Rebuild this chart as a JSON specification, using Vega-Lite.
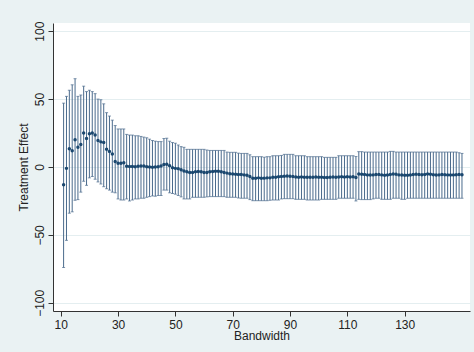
{
  "$schema": "https://vega.github.io/schema/vega-lite/v6.json",
  "width": 417,
  "height": 288,
  "autosize": {"type": "none"},
  "padding": {"left": 53, "top": 23, "right": 4, "bottom": 41},
  "background": "#eaf2f3",
  "config": {
    "view": {"fill": "white", "stroke": null},
    "font": "Liberation Sans",
    "axis": {
      "domainColor": "#333333",
      "domainWidth": 1,
      "tickColor": "#333333",
      "tickSize": 5,
      "labelColor": "#222222",
      "titleColor": "#222222",
      "labelFontSize": 12,
      "titleFontSize": 12,
      "titleFontWeight": "normal",
      "labelFont": "Liberation Sans",
      "titleFont": "Liberation Sans"
    }
  },
  "data": {
    "values": [
      {"bw": 11, "est": -13, "lo": -74, "hi": 47},
      {"bw": 12, "est": -1, "lo": -54, "hi": 52},
      {"bw": 13, "est": 13.5, "lo": -34, "hi": 56.5},
      {"bw": 14, "est": 12, "lo": -33, "hi": 60.5},
      {"bw": 15, "est": 20, "lo": -24.5, "hi": 65},
      {"bw": 16, "est": 14.5, "lo": -24, "hi": 52},
      {"bw": 17, "est": 16.5, "lo": -18.5, "hi": 53},
      {"bw": 18, "est": 25, "lo": -10.5, "hi": 59.5},
      {"bw": 19, "est": 21, "lo": -13.5, "hi": 55.5},
      {"bw": 20, "est": 24.5, "lo": -8, "hi": 56.5},
      {"bw": 21, "est": 25, "lo": -7, "hi": 55.5},
      {"bw": 22, "est": 23.5, "lo": -9, "hi": 54},
      {"bw": 23, "est": 19.5, "lo": -11, "hi": 50},
      {"bw": 24, "est": 18.5, "lo": -12.5, "hi": 49.5},
      {"bw": 25, "est": 18, "lo": -14.5, "hi": 46.5},
      {"bw": 26, "est": 13, "lo": -16, "hi": 40},
      {"bw": 27, "est": 11.5, "lo": -17, "hi": 37.5},
      {"bw": 28, "est": 9.5, "lo": -18.5, "hi": 34.5},
      {"bw": 29, "est": 4, "lo": -19, "hi": 30.5},
      {"bw": 30, "est": 2.7, "lo": -23.5, "hi": 28},
      {"bw": 31, "est": 2.7, "lo": -24.3, "hi": 28},
      {"bw": 32, "est": 3.2, "lo": -24.3, "hi": 28},
      {"bw": 33, "est": 0.5, "lo": -23.5, "hi": 24},
      {"bw": 34, "est": 0.3, "lo": -25, "hi": 23.5},
      {"bw": 35, "est": 0.3, "lo": -24.3, "hi": 23.5},
      {"bw": 36, "est": 0.2, "lo": -23.5, "hi": 23},
      {"bw": 37, "est": 0.5, "lo": -23.5, "hi": 23},
      {"bw": 38, "est": 0.8, "lo": -23, "hi": 22.5},
      {"bw": 39, "est": 0.7, "lo": -23, "hi": 22},
      {"bw": 40, "est": 0.2, "lo": -22.3, "hi": 21.5},
      {"bw": 41, "est": 0, "lo": -21.8, "hi": 20.5},
      {"bw": 42, "est": -0.2, "lo": -21.3, "hi": 19.5},
      {"bw": 43, "est": 0, "lo": -21.5, "hi": 19},
      {"bw": 44, "est": 0.2, "lo": -21, "hi": 18.7},
      {"bw": 45, "est": 0.8, "lo": -21, "hi": 18.7},
      {"bw": 46, "est": 1.8, "lo": -17, "hi": 21},
      {"bw": 47, "est": 2, "lo": -17, "hi": 21.2},
      {"bw": 48, "est": 1, "lo": -19, "hi": 19},
      {"bw": 49, "est": -0.5, "lo": -19.5, "hi": 18},
      {"bw": 50, "est": -1, "lo": -20, "hi": 17.5},
      {"bw": 51, "est": -1.2, "lo": -21, "hi": 16.2},
      {"bw": 52, "est": -2, "lo": -22, "hi": 15},
      {"bw": 53, "est": -3, "lo": -23.5, "hi": 14.5},
      {"bw": 54, "est": -3.5, "lo": -23.5, "hi": 13},
      {"bw": 55, "est": -4, "lo": -23.5, "hi": 13},
      {"bw": 56, "est": -4, "lo": -22.3, "hi": 13},
      {"bw": 57, "est": -3.5, "lo": -22.3, "hi": 13},
      {"bw": 58, "est": -3.3, "lo": -22.3, "hi": 13},
      {"bw": 59, "est": -3.5, "lo": -22.3, "hi": 13},
      {"bw": 60, "est": -4, "lo": -22.3, "hi": 13},
      {"bw": 61, "est": -4, "lo": -22, "hi": 12.5},
      {"bw": 62, "est": -3.5, "lo": -21.8, "hi": 12.2},
      {"bw": 63, "est": -3.3, "lo": -21.8, "hi": 12.2},
      {"bw": 64, "est": -3.2, "lo": -21.8, "hi": 12.2},
      {"bw": 65, "est": -3.2, "lo": -21.8, "hi": 12.2},
      {"bw": 66, "est": -3.5, "lo": -21.8, "hi": 12.2},
      {"bw": 67, "est": -4, "lo": -21.8, "hi": 12.2},
      {"bw": 68, "est": -4.5, "lo": -22.3, "hi": 11},
      {"bw": 69, "est": -5, "lo": -22.3, "hi": 10.8},
      {"bw": 70, "est": -5.2, "lo": -22.3, "hi": 10.8},
      {"bw": 71, "est": -5.3, "lo": -22.3, "hi": 10.8},
      {"bw": 72, "est": -5.5, "lo": -22.8, "hi": 10.2},
      {"bw": 73, "est": -5.6, "lo": -23, "hi": 10},
      {"bw": 74, "est": -5.8, "lo": -23, "hi": 10},
      {"bw": 75, "est": -6, "lo": -23, "hi": 10},
      {"bw": 76, "est": -7, "lo": -24, "hi": 9},
      {"bw": 77, "est": -8.3, "lo": -24.8, "hi": 7.6},
      {"bw": 78, "est": -8.3, "lo": -24.8, "hi": 7.6},
      {"bw": 79, "est": -8, "lo": -24.8, "hi": 7.6},
      {"bw": 80, "est": -8.3, "lo": -24.8, "hi": 7.6},
      {"bw": 81, "est": -8.2, "lo": -24.8, "hi": 7.2},
      {"bw": 82, "est": -8, "lo": -24.8, "hi": 7.6},
      {"bw": 83, "est": -8, "lo": -24.5, "hi": 7.6},
      {"bw": 84, "est": -7.5, "lo": -24.3, "hi": 8.3},
      {"bw": 85, "est": -7.6, "lo": -24.3, "hi": 8.3},
      {"bw": 86, "est": -7.2, "lo": -24.3, "hi": 8.3},
      {"bw": 87, "est": -7, "lo": -23.5, "hi": 8.5},
      {"bw": 88, "est": -6.8, "lo": -23.3, "hi": 9.3},
      {"bw": 89, "est": -6.6, "lo": -23.3, "hi": 9.3},
      {"bw": 90, "est": -6.8, "lo": -23.3, "hi": 9.3},
      {"bw": 91, "est": -7, "lo": -23.3, "hi": 9.3},
      {"bw": 92, "est": -7.3, "lo": -23.8, "hi": 8.3},
      {"bw": 93, "est": -7.6, "lo": -23.8, "hi": 8.3},
      {"bw": 94, "est": -7.4, "lo": -23.8, "hi": 8.3},
      {"bw": 95, "est": -7.5, "lo": -23.8, "hi": 8.3},
      {"bw": 96, "est": -7.6, "lo": -24.3, "hi": 7.6},
      {"bw": 97, "est": -7.6, "lo": -24.3, "hi": 7.6},
      {"bw": 98, "est": -7.5, "lo": -24.3, "hi": 7.6},
      {"bw": 99, "est": -7.4, "lo": -24.3, "hi": 7.6},
      {"bw": 100, "est": -7.6, "lo": -24.3, "hi": 7.6},
      {"bw": 101, "est": -7.5, "lo": -23.8, "hi": 7.6},
      {"bw": 102, "est": -7.7, "lo": -23.8, "hi": 7.1},
      {"bw": 103, "est": -7.8, "lo": -23.8, "hi": 7.1},
      {"bw": 104, "est": -7.6, "lo": -23.8, "hi": 7.1},
      {"bw": 105, "est": -7.4, "lo": -23.8, "hi": 7.1},
      {"bw": 106, "est": -7.5, "lo": -23.8, "hi": 7.1},
      {"bw": 107, "est": -7.4, "lo": -23, "hi": 8.3},
      {"bw": 108, "est": -7.2, "lo": -23, "hi": 8.3},
      {"bw": 109, "est": -7.3, "lo": -23, "hi": 8.3},
      {"bw": 110, "est": -7.2, "lo": -23, "hi": 8.3},
      {"bw": 111, "est": -7.3, "lo": -23, "hi": 8.3},
      {"bw": 112, "est": -7.1, "lo": -23, "hi": 8.3},
      {"bw": 113, "est": -7.8, "lo": -25, "hi": 7.7},
      {"bw": 114, "est": -5.2, "lo": -23.8, "hi": 11.3},
      {"bw": 115, "est": -5.3, "lo": -24, "hi": 11.3},
      {"bw": 116, "est": -5.6, "lo": -24, "hi": 11},
      {"bw": 117, "est": -5.8, "lo": -24, "hi": 11},
      {"bw": 118, "est": -5.9, "lo": -24, "hi": 11},
      {"bw": 119, "est": -5.8, "lo": -23.5, "hi": 11},
      {"bw": 120, "est": -5.6, "lo": -23, "hi": 11},
      {"bw": 121, "est": -5.5, "lo": -23, "hi": 11},
      {"bw": 122, "est": -5.8, "lo": -23.8, "hi": 11},
      {"bw": 123, "est": -6, "lo": -23.8, "hi": 11},
      {"bw": 124, "est": -5.9, "lo": -23.8, "hi": 11},
      {"bw": 125, "est": -5.5, "lo": -23.8, "hi": 11.5},
      {"bw": 126, "est": -5.2, "lo": -23, "hi": 11.5},
      {"bw": 127, "est": -5.4, "lo": -23, "hi": 11},
      {"bw": 128, "est": -5.8, "lo": -23, "hi": 11},
      {"bw": 129, "est": -5.9, "lo": -23.8, "hi": 11},
      {"bw": 130, "est": -6, "lo": -23.8, "hi": 11},
      {"bw": 131, "est": -6.1, "lo": -23, "hi": 11},
      {"bw": 132, "est": -5.9, "lo": -23, "hi": 11},
      {"bw": 133, "est": -5.6, "lo": -23, "hi": 11},
      {"bw": 134, "est": -5.4, "lo": -23, "hi": 11},
      {"bw": 135, "est": -5.5, "lo": -23, "hi": 11},
      {"bw": 136, "est": -5.7, "lo": -23, "hi": 11},
      {"bw": 137, "est": -5.5, "lo": -23, "hi": 11},
      {"bw": 138, "est": -5.2, "lo": -23, "hi": 11},
      {"bw": 139, "est": -5.4, "lo": -23, "hi": 11},
      {"bw": 140, "est": -5.7, "lo": -23, "hi": 11},
      {"bw": 141, "est": -5.9, "lo": -23, "hi": 11},
      {"bw": 142, "est": -5.8, "lo": -23, "hi": 11},
      {"bw": 143, "est": -5.6, "lo": -23, "hi": 11},
      {"bw": 144, "est": -5.7, "lo": -23, "hi": 11},
      {"bw": 145, "est": -5.8, "lo": -23, "hi": 11},
      {"bw": 146, "est": -5.9, "lo": -23, "hi": 11},
      {"bw": 147, "est": -5.8, "lo": -23, "hi": 11},
      {"bw": 148, "est": -5.7, "lo": -23, "hi": 11},
      {"bw": 149, "est": -5.6, "lo": -23, "hi": 10.5},
      {"bw": 150, "est": -5.7, "lo": -23, "hi": 10}
    ]
  },
  "encoding": {
    "x": {
      "field": "bw",
      "type": "quantitative",
      "title": "Bandwidth",
      "scale": {"domain": [7.3, 152.8], "nice": false, "zero": false},
      "axis": {
        "values": [10, 30, 50, 70, 90, 110, 130],
        "grid": false,
        "labelPadding": 3,
        "titlePadding": 0
      }
    }
  },
  "layer": [
    {
      "mark": {"type": "errorbar", "ticks": true, "size": 3, "thickness": 1, "color": "#4a6a8c"},
      "encoding": {
        "y": {
          "field": "lo",
          "type": "quantitative",
          "title": "Treatment Effect",
          "scale": {"domain": [-106, 106], "nice": false, "zero": false},
          "axis": {
            "values": [-100, -50, 0, 50, 100],
            "grid": true,
            "gridColor": "#e4eef0",
            "gridWidth": 1,
            "labelAngle": -90,
            "labelAlign": "center",
            "labelBaseline": "alphabetic",
            "labelPadding": 5,
            "titlePadding": 3
          }
        },
        "y2": {"field": "hi"}
      }
    },
    {
      "mark": {"type": "rule", "color": "#d0606e", "strokeWidth": 1, "opacity": 0.85},
      "encoding": {
        "y": {"datum": 0, "type": "quantitative", "title": "Treatment Effect"}
      }
    },
    {
      "mark": {"type": "point", "filled": true, "size": 12, "color": "#1a476f", "opacity": 1},
      "encoding": {
        "y": {"field": "est", "type": "quantitative", "title": "Treatment Effect"}
      }
    }
  ]
}
